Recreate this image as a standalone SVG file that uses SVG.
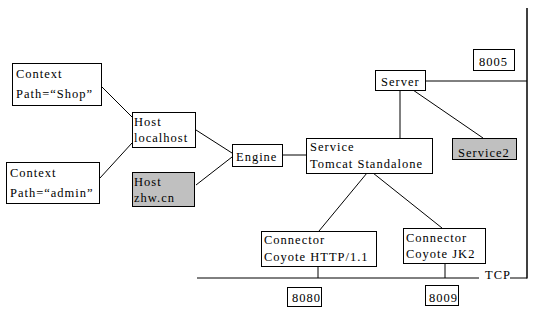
<svg xmlns="http://www.w3.org/2000/svg" width="539" height="316" viewBox="0 0 539 316">
  <style>
    .box { fill: #ffffff; stroke: #000000; stroke-width: 1; }
    .alt { fill: #c0c0c0; stroke: #000000; stroke-width: 1; }
    .lbl { font-family: "Liberation Serif", "Times New Roman", serif; font-size: 12.5px; letter-spacing: 1px; fill: #000000; }
    .wire { stroke: #000000; stroke-width: 1; fill: none; }
    .bus { stroke: #000000; stroke-width: 1.5; fill: none; }
  </style>
  <rect width="539" height="316" fill="#ffffff"/>

  <g id="connectors">
    <line class="wire" x1="102" y1="87" x2="132" y2="117"/>
    <line class="wire" x1="100" y1="178" x2="132" y2="143"/>
    <line class="wire" x1="196" y1="130" x2="232" y2="153"/>
    <line class="wire" x1="196" y1="185" x2="232" y2="157"/>
    <line class="wire" x1="283" y1="155" x2="306" y2="155"/>
    <line class="wire" x1="400" y1="90" x2="400" y2="138"/>
    <line class="wire" x1="413" y1="90" x2="483" y2="138"/>
    <line class="wire" x1="425" y1="81" x2="527" y2="81"/>
    <line class="wire" x1="367" y1="173" x2="319" y2="231"/>
    <line class="wire" x1="373" y1="173" x2="442" y2="228"/>
    <line class="wire" x1="318" y1="266" x2="318" y2="278"/>
    <line class="wire" x1="445" y1="263" x2="445" y2="278"/>
    <line class="wire" x1="197" y1="278" x2="479" y2="278"/>
    <polyline class="wire" points="510,278 527,278"/>
    <line class="bus" x1="527" y1="8" x2="527" y2="278.5"/>
  </g>

  <g id="context-shop">
    <rect class="box" x="12.5" y="63.5" width="89" height="42"/>
    <text class="lbl" x="16" y="78">Context</text>
    <text class="lbl" x="16" y="98">Path=“Shop”</text>
  </g>

  <g id="context-admin">
    <rect class="box" x="6.5" y="162.5" width="93" height="41"/>
    <text class="lbl" x="10" y="177">Context</text>
    <text class="lbl" x="10" y="197">Path=“admin”</text>
  </g>

  <g id="host-localhost">
    <rect class="box" x="132.5" y="112.5" width="63" height="35"/>
    <text class="lbl" x="134" y="126">Host</text>
    <text class="lbl" x="134" y="142">localhost</text>
  </g>

  <g id="host-zhw">
    <rect class="alt" x="132.5" y="172.5" width="62" height="34"/>
    <text class="lbl" x="134" y="186">Host</text>
    <text class="lbl" x="134" y="202">zhw.cn</text>
  </g>

  <g id="engine">
    <rect class="box" x="232.5" y="144.5" width="50" height="22"/>
    <text class="lbl" x="236" y="161">Engine</text>
  </g>

  <g id="service">
    <rect class="box" x="306.5" y="138.5" width="126" height="35"/>
    <text class="lbl" x="310" y="151">Service</text>
    <text class="lbl" x="310" y="168">Tomcat Standalone</text>
  </g>

  <g id="server">
    <rect class="box" x="375.5" y="70.5" width="50" height="20"/>
    <text class="lbl" x="381" y="86">Server</text>
  </g>

  <g id="port-8005">
    <rect class="box" x="473.5" y="49.5" width="41" height="21"/>
    <text class="lbl" x="479" y="66">8005</text>
  </g>

  <g id="service2">
    <rect class="alt" x="452.5" y="138.5" width="64" height="21"/>
    <text class="lbl" x="458" y="157">Service2</text>
  </g>

  <g id="connector-http">
    <rect class="box" x="261.5" y="231.5" width="115" height="35"/>
    <text class="lbl" x="264" y="244">Connector</text>
    <text class="lbl" x="264" y="261">Coyote HTTP/1.1</text>
  </g>

  <g id="connector-jk2">
    <rect class="box" x="403.5" y="228.5" width="82" height="35"/>
    <text class="lbl" x="406" y="242">Connector</text>
    <text class="lbl" x="406" y="258">Coyote JK2</text>
  </g>

  <g id="port-8080">
    <rect class="box" x="287.5" y="287.5" width="34" height="19"/>
    <text class="lbl" x="292" y="302">8080</text>
  </g>

  <g id="port-8009">
    <rect class="box" x="425.5" y="285.5" width="33" height="20"/>
    <text class="lbl" x="429" y="302">8009</text>
  </g>

  <g id="tcp">
    <text class="lbl" x="485" y="279">TCP</text>
  </g>
</svg>
